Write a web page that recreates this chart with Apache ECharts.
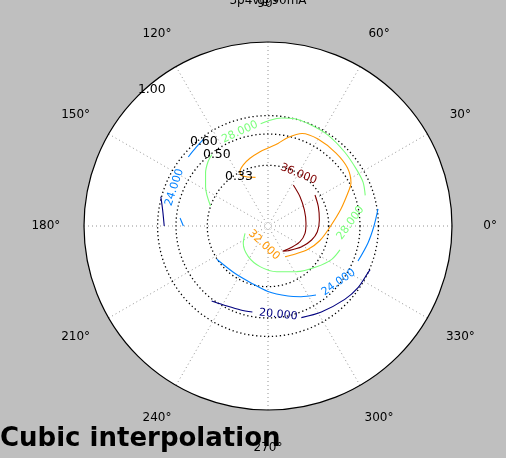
<!DOCTYPE html>
<html><head><meta charset="utf-8">
<script src="https://cdn.jsdelivr.net/npm/echarts@6/dist/echarts.min.js"></script>
<style>html,body{margin:0;padding:0;background:#bfbfbf;overflow:hidden}#c{width:506px;height:458px}</style>
</head><body><div id="c"></div>
<script>
// ---- data (polar: [radius, angle in degrees]) ----
const angleTicks = [0, 30, 60, 90, 120, 150, 180, 210, 240, 270, 300, 330];
const angleTickLabels = ['0°', '30°', '60°', '90°', '120°', '150°', '180°', '210°', '240°', '270°', '300°', '330°'];
const radiusGridValues = [0.33, 0.50, 0.60];
const radiusTickValues = [0.33, 0.50, 0.60, 1.00];
const radiusTickLabels = ['0.33', '0.50', '0.60', '1.00'];
const levels = [20, 24, 28, 32, 36];
const titleText = '3p4v@90mA';
const subtitleText = 'Cubic interpolation';

const c20_left = [[0.604,164.7],[0.579,171.4],[0.564,180.0]];
const c20_bottomLeft = [[0.510,233.1],[0.489,242.9],[0.480,252.0],[0.475,259.7]];
const c20_bottomRight = [[0.530,290.0],[0.550,301.8],[0.577,316.3],[0.593,325.6],[0.600,335.0],[0.604,336.7]];

const c24_leftLow = [[0.460,180.0],[0.480,174.8]];
const c24_leftUp = [[0.573,139.1],[0.579,132.5],[0.588,126.2]];
const c24_bottom = [[0.332,213.0],[0.314,234.0],[0.322,253.0],[0.356,270.0],[0.396,285.9],[0.424,295.0],[0.457,304.8]];
const c24_right = [[0.525,338.7],[0.551,350.4],[0.576,0.0],[0.605,8.8]];

const c28_left = [[0.331,160.8],[0.400,148.0],[0.445,139.7],[0.477,133.2],[0.494,128.1]];
const c28_top = [[0.557,94.1],[0.571,90.0],[0.591,83.0],[0.601,76.0],[0.597,66.9],[0.592,56.6],[0.579,44.0],[0.571,33.1],[0.569,24.8],[0.554,17.5]];
const c28_bottom = [[0.412,341.6],[0.391,332.4],[0.345,320.1],[0.293,302.1],[0.253,280.8],[0.225,258.9],[0.198,237.3],[0.164,215.0],[0.131,197.6]];

const c32_main = [[0.273,104.4],[0.293,114.1],[0.315,118.3],[0.333,117.2],[0.358,112.0],[0.381,104.9],[0.406,96.1],[0.424,90.0],[0.452,83.1],[0.493,77.3],[0.536,69.8],[0.545,60.1],[0.542,47.0],[0.535,36.1],[0.508,27.4],[0.486,24.4],[0.407,13.1],[0.337,359.1],[0.293,344.4],[0.252,329.8],[0.211,313.3],[0.191,299.0]];

const c36_main = [[0.262,58.3],[0.236,42.5],[0.216,23.8],[0.207,4.1],[0.205,348.8],[0.194,333.9],[0.173,318.1],[0.159,300.2],[0.174,309.4],[0.215,328.4],[0.249,342.2],[0.270,353.4],[0.281,6.7],[0.293,21.0],[0.306,33.4]];

const contourSegments = [
  [20, c20_left], [20, c20_bottomLeft], [20, c20_bottomRight],
  [24, c24_leftLow], [24, c24_leftUp], [24, c24_bottom], [24, c24_right],
  [28, c28_left], [28, c28_top], [28, c28_bottom],
  [32, c32_main],
  [36, c36_main]
];

const contourLabelLevels = [20, 24, 24, 28, 28, 32, 36];
const contourLabelPos = [[0.485,276.6],[0.491,321.3],[0.550,157.6],[0.533,106.6],[0.449,2.1],[0.106,258.1],[0.328,59.6]];

// ---- styling ----
const levelColors = {20:'#00007f', 24:'#0080ff', 28:'#7bff7b', 32:'#ff9700', 36:'#7f0000'};
const contourLabelRotation = [-6, 35, 72, 25, 54, -43, -22];
const FONT = 'DejaVu Sans';

const chart = echarts.init(document.getElementById('c'), null, {renderer: 'canvas'});

const series = contourSegments.map(([lv, pts]) => ({
  type: 'line',
  coordinateSystem: 'polar',
  data: pts,
  symbol: 'none',
  smooth: 0.3,
  clip: false,
  silent: true,
  z: 5,
  lineStyle: {color: levelColors[lv], width: 1.1}
}));

chart.setOption({
  animation: false,
  backgroundColor: '#bfbfbf',
  polar: {center: [268, 226], radius: 184},
  angleAxis: {
    type: 'value', min: 0, max: 360, interval: 30,
    startAngle: 0, clockwise: false,
    axisLine: {show: true, lineStyle: {color: '#000', width: 1.2}},
    axisTick: {show: false},
    axisLabel: {show: false},
    splitLine: {show: true, lineStyle: {color: '#777', width: 0.8, type: [1, 3]}}
  },
  radiusAxis: {
    type: 'value', min: 0, max: 1,
    axisLine: {show: false},
    axisTick: {show: false, customValues: radiusGridValues},
    axisLabel: {show: false},
    splitLine: {show: true, lineStyle: {color: '#000', width: 1.3, type: [1.3, 2.7]}}
  },
  series: series
});

const P = v => chart.convertToPixel({seriesIndex: 0}, v);
const c0 = P([0, 0]);
const c1 = P([1, 0]);
const graphics = [];
// white plotting disk behind everything
graphics.push({type: 'circle', z: -10, silent: true,
  shape: {cx: c0[0], cy: c0[1], r: Math.hypot(c1[0] - c0[0], c1[1] - c0[1])},
  style: {fill: '#ffffff'}});
// angle labels (placed outside the circle)
angleTicks.forEach((a, i) => {
  const p = P([1.207, a]);
  graphics.push({type: 'text', x: p[0], y: p[1], z: 10,
    style: {text: angleTickLabels[i], font: '12px "' + FONT + '"', fill: '#000', align: 'center', verticalAlign: 'middle'}});
});
// radial labels along 135°
radiusTickValues.forEach((v, i) => {
  const p = P([v, 135]);
  graphics.push({type: 'text', x: p[0], y: p[1], z: 10,
    style: {text: radiusTickLabels[i], font: '12.5px "' + FONT + '"', fill: '#000', align: 'left', verticalAlign: 'bottom'}});
});
// contour labels
contourLabelPos.forEach((pos, i) => {
  const p = P(pos);
  const lv = contourLabelLevels[i];
  graphics.push({type: 'text', x: p[0], y: p[1], z: 10,
    rotation: contourLabelRotation[i] * Math.PI / 180,
    style: {text: lv.toFixed(3), font: '11px "' + FONT + '"', fill: levelColors[lv], align: 'center', verticalAlign: 'middle'}});
});
// titles
graphics.push({type: 'text', x: 268, y: 1, z: 10,
  style: {text: titleText, font: '12px "' + FONT + '"', fill: '#000', align: 'center', verticalAlign: 'middle'}});
graphics.push({type: 'text', x: 0, y: 439, z: 10,
  style: {text: subtitleText, font: 'bold 26px "' + FONT + '"', fill: '#000', align: 'left', verticalAlign: 'middle'}});

chart.setOption({graphic: graphics});
</script>
</body></html>
